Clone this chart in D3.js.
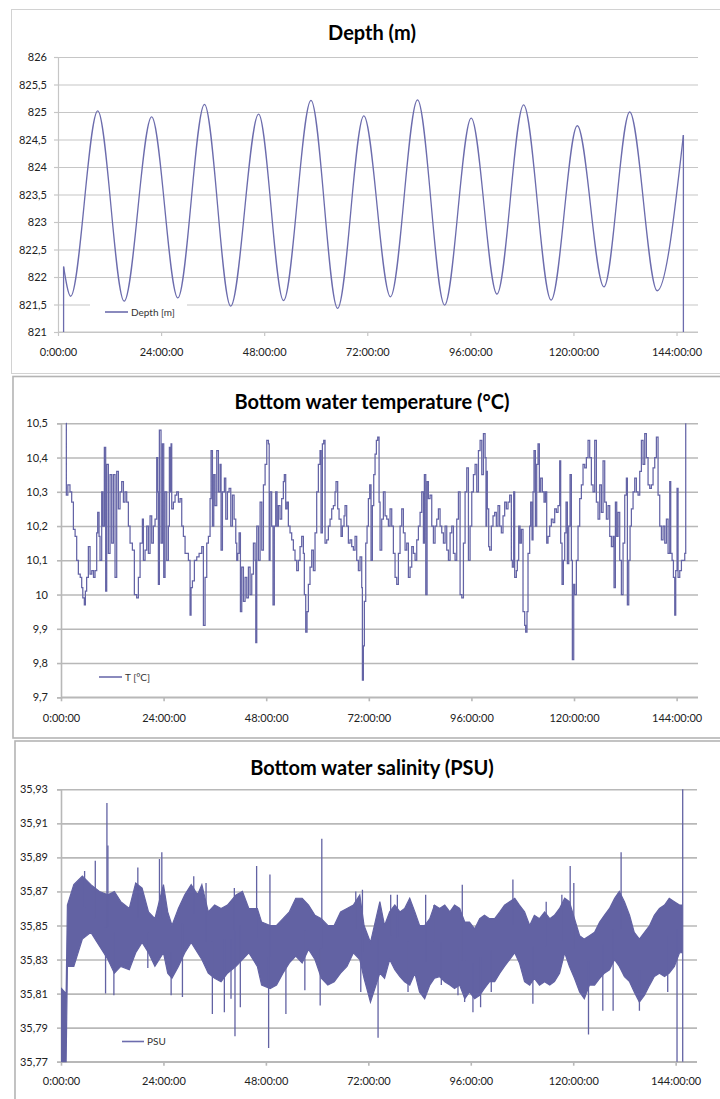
<!DOCTYPE html>
<html><head><meta charset="utf-8">
<script src="https://cdn.jsdelivr.net/npm/d3@7"></script>
<style>body{margin:0;background:#fff} svg{display:block} text{font-family:Lato,"Open Sans",sans-serif}</style>
</head><body><svg id="c" width="720" height="1099"></svg>
<script>
// ---------- DATA ----------
const hourTicks = [0, 24, 48, 72, 96, 120, 144];

// Depth (m): tidal extremes (hour, value)
const depthHours  = [1.3, 2.95, 9.25, 15.4, 21.8, 27.9, 34.1, 40.2, 46.7, 52.5, 58.9, 65.1, 71.2, 77.4, 83.7, 90.0, 96.2, 102.2, 108.4, 114.8, 120.9, 127.1, 133.1, 139.5, 145.6];
const depthValues = [822.19, 821.65, 825.02, 821.56, 824.91, 821.62, 825.14, 821.47, 824.96, 821.57, 825.21, 821.43, 824.93, 821.64, 825.22, 821.49, 824.89, 821.69, 825.13, 821.58, 824.75, 821.82, 825.0, 821.75, 824.58];
const depthFloor = 821;           // record starts / ends below the axis minimum
const depthTicks = [821, 821.5, 822, 822.5, 823, 823.5, 824, 824.5, 825, 825.5, 826];

// Bottom water temperature (°C)
const tempHours = [1.17,1.25,1.6,2.1,2.5,2.9,3.3,3.67,4.06,4.5,4.84,5.1,5.46,5.7,6.0,6.4,6.8,7.2,7.6,7.96,8.35,8.58,8.9,9.13,9.52,9.8,10.14,10.45,10.69,11.08,11.47,11.86,12.25,12.64,13.03,13.42,13.81,14.2,14.6,14.98,15.37,15.76,16.15,16.7,17.16,17.7,18.1,18.5,19.04,19.27,19.66,20.05,20.44,20.83,21.22,21.61,22.0,22.39,22.6,22.78,23.01,23.4,23.72,24.03,24.34,24.73,25.12,25.35,25.6,25.74,25.9,26.29,26.68,27.07,27.46,27.85,28.24,28.63,29.02,29.41,29.8,30.19,30.42,30.74,31.2,31.75,32.3,32.92,33.31,33.7,34.09,34.48,34.87,35.1,35.42,35.73,36.04,36.43,36.82,37.21,37.44,37.76,38.22,38.54,38.93,39.32,39.71,40.1,40.49,40.88,41.11,41.34,41.66,41.97,42.28,42.67,43.06,43.45,43.84,44.23,44.62,45.01,45.4,45.56,45.79,46.18,46.57,46.96,47.35,47.74,48.13,48.52,48.7,48.9,49.28,49.59,49.9,50.22,50.53,50.84,51.23,51.62,52.01,52.24,52.56,52.87,53.18,53.57,53.96,54.35,54.74,55.13,55.52,55.91,56.3,56.69,56.92,57.24,57.55,57.86,58.25,58.64,59.03,59.42,59.81,60.2,60.59,60.82,61.14,61.45,61.76,62.15,62.54,62.93,63.32,63.71,64.1,64.33,64.72,65.04,65.5,65.82,66.21,66.44,66.83,67.22,67.61,68.0,68.39,68.78,69.17,69.56,69.95,70.34,70.5,70.73,70.96,71.28,71.59,71.9,72.21,72.52,72.84,73.15,73.46,73.77,74.08,74.4,74.63,75.02,75.41,75.8,76.19,76.58,76.97,77.36,77.75,78.14,78.53,78.92,79.31,79.7,80.09,80.48,80.87,81.26,81.65,82.04,82.43,82.82,83.21,83.6,83.99,84.38,84.77,85.0,85.32,85.63,85.94,86.33,86.72,87.11,87.5,87.89,88.28,88.67,89.06,89.45,89.84,90.23,90.62,91.01,91.4,91.79,92.18,92.57,92.96,93.35,93.74,94.13,94.52,94.91,95.3,95.69,96.08,96.47,96.86,97.25,97.64,98.03,98.42,98.81,99.2,99.41,99.57,99.72,100.04,100.27,100.66,101.05,101.44,101.83,102.22,102.61,103.0,103.39,103.78,104.17,104.56,104.95,105.34,105.57,105.89,106.12,106.51,106.74,107.06,107.37,107.68,108.07,108.46,108.69,109.0,109.24,109.63,109.86,110.18,110.41,110.64,110.96,111.27,111.58,111.89,112.2,112.59,112.98,113.3,113.61,113.92,114.31,114.7,115.09,115.48,115.87,116.26,116.65,116.88,117.2,117.51,117.82,118.13,118.44,118.76,119.07,119.38,119.61,119.93,120.16,120.55,120.94,121.33,121.72,122.11,122.5,122.89,123.28,123.67,124.06,124.45,124.84,125.23,125.62,126.01,126.4,126.79,127.18,127.57,127.96,128.35,128.74,129.13,129.36,129.68,129.99,130.3,130.69,131.08,131.47,131.86,132.25,132.48,132.8,133.11,133.42,133.81,134.2,134.59,134.98,135.37,135.76,136.15,136.54,136.93,137.32,137.71,138.1,138.49,138.88,139.27,139.66,140.05,140.44,140.83,141.22,141.61,142.0,142.39,142.62,142.94,143.25,143.56,143.79,144.1,144.34,144.73,145.12,145.51,145.9,146.13];
const tempValues = [10.5,10.29,10.32,10.3,10.27,10.19,10.17,10.1,10.06,10.05,10.02,9.99,9.97,10.01,10.05,10.14,10.06,10.07,10.05,10.07,10.18,10.24,10.17,10.1,10.3,10.2,10.43,10.01,10.38,10.12,10.35,10.15,10.35,10.05,10.36,10.25,10.3,10.33,10.27,10.3,10.27,10.2,10.15,10.13,10.0,9.99,10.05,10.15,10.22,10.1,10.13,10.2,10.12,10.23,10.15,10.2,10.22,10.4,10.3,10.03,10.48,10.15,10.44,10.05,10.3,10.1,10.2,10.43,10.3,10.44,10.25,10.27,10.29,10.3,10.27,10.28,10.2,10.17,10.12,10.12,10.1,9.94,10.02,10.04,10.1,10.11,10.12,10.14,9.91,10.05,10.15,10.17,10.28,10.42,10.2,10.35,10.26,10.42,10.3,10.38,10.13,10.3,10.34,10.22,10.3,10.31,10.2,10.29,10.22,10.15,10.1,10.12,10.18,9.95,10.08,9.98,10.05,9.99,10.08,10.0,10.06,10.15,10.1,9.86,10.2,10.1,10.27,10.13,10.32,10.38,10.45,10.44,10.1,10.3,10.2,9.97,10.2,10.3,10.2,10.26,10.22,10.28,10.33,10.35,10.25,10.27,10.2,10.18,10.16,10.13,10.1,10.07,10.1,10.14,10.17,10.12,10.0,9.89,9.95,10.03,10.08,10.13,10.07,10.18,10.3,10.38,10.42,10.18,10.44,10.45,10.15,10.16,10.2,10.22,10.25,10.26,10.3,10.33,10.25,10.22,10.17,10.2,10.23,10.26,10.2,10.15,10.16,10.14,10.13,10.17,10.1,10.07,10.11,10.02,9.75,9.85,9.98,10.15,10.2,10.28,10.32,10.1,10.26,10.35,10.41,10.45,10.46,10.27,10.13,10.22,10.3,10.23,10.22,10.2,10.25,10.2,10.12,10.05,10.03,10.12,10.2,10.25,10.18,10.13,10.15,10.05,10.08,10.14,10.12,10.1,10.16,10.2,10.24,10.3,10.15,10.35,10.0,10.33,10.28,10.29,10.2,10.15,10.2,10.22,10.25,10.2,10.18,10.15,10.2,10.13,10.1,10.18,10.2,10.12,10.1,10.22,10.3,10.0,9.99,10.15,10.3,10.37,10.1,10.2,10.3,10.35,10.38,10.3,10.42,10.45,10.35,10.47,10.4,10.2,10.36,10.25,10.14,10.13,10.2,10.23,10.24,10.2,10.26,10.2,10.18,10.23,10.27,10.25,10.27,10.29,10.1,10.08,10.3,10.05,10.07,10.1,10.2,10.15,10.19,9.95,9.91,9.89,9.95,10.12,10.2,10.27,10.16,10.3,10.42,10.2,10.38,10.44,10.3,10.34,10.3,10.27,10.3,10.15,10.17,10.2,10.22,10.21,10.25,10.24,10.26,10.39,10.15,10.03,10.1,10.18,10.27,10.09,10.2,10.35,10.1,9.81,10.03,10.0,10.1,10.2,10.28,10.32,10.38,10.37,10.4,10.45,10.4,10.32,10.3,10.45,10.27,10.22,10.32,10.24,10.39,10.27,10.22,10.26,10.17,10.14,10.17,10.02,10.27,10.17,10.24,10.1,10.0,10.15,10.29,10.34,9.97,10.1,10.2,10.25,10.3,10.34,10.3,10.29,10.36,10.45,10.38,10.47,10.4,10.32,10.31,10.32,10.37,10.4,10.46,10.29,10.2,10.16,10.2,10.15,10.22,10.12,10.33,10.12,10.1,10.05,9.94,10.07,10.31,10.05,10.07,10.1,10.1,10.12,10.5];
const tempTicks = [9.7, 9.8, 9.9, 10.0, 10.1, 10.2, 10.3, 10.4, 10.5];

// Bottom water salinity (PSU): envelope of the dense signal + isolated spikes
const salHours = [0.1,1.2,1.5,3,5,7,9,11,12.5,14,16,17.5,19,20.5,22,24,25,26,27.5,29,30.5,32,33,34.5,36,37.5,39,41,42.5,44,46,47,49,50.5,52,53.5,55,56.5,58,59.5,61,62.5,64,65.5,67,68.5,70,71,72.5,74.7,75.8,77,78.2,79.4,80.5,81.7,82.9,84,85.2,86.4,87.5,88.7,89.9,91.1,92.2,93.4,94.6,95.7,96.9,98.1,99.2,100.4,101.6,102.8,103.9,105.1,106.3,107.4,108.6,109.8,110.9,112.1,113.3,114.5,115.6,116.8,118,119.1,120.3,121.5,122.6,123.8,125,126.2,127.3,128.5,129.7,130.8,132,133.2,134.3,135.5,136.7,137.9,139,140.2,141.4,142.5,143.7,144.9,145.5];
const salLow  = [35.77,35.77,35.826,35.826,35.842,35.846,35.838,35.83,35.822,35.826,35.824,35.834,35.84,35.834,35.826,35.834,35.822,35.819,35.826,35.834,35.84,35.834,35.83,35.822,35.819,35.817,35.822,35.826,35.83,35.834,35.826,35.815,35.813,35.815,35.822,35.828,35.832,35.828,35.836,35.83,35.819,35.815,35.817,35.822,35.826,35.834,35.83,35.819,35.805,35.822,35.819,35.83,35.824,35.82,35.817,35.815,35.822,35.811,35.807,35.815,35.819,35.82,35.817,35.815,35.813,35.815,35.807,35.811,35.807,35.809,35.813,35.817,35.817,35.822,35.826,35.83,35.834,35.828,35.817,35.815,35.819,35.815,35.817,35.815,35.817,35.822,35.834,35.826,35.819,35.811,35.807,35.815,35.815,35.819,35.822,35.824,35.83,35.826,35.82,35.817,35.811,35.805,35.809,35.815,35.82,35.822,35.82,35.822,35.826,35.834,35.834];
const salHigh = [35.813,35.81,35.862,35.874,35.879,35.874,35.87,35.868,35.87,35.864,35.86,35.875,35.872,35.858,35.854,35.874,35.858,35.85,35.86,35.868,35.874,35.868,35.874,35.858,35.862,35.86,35.862,35.868,35.87,35.86,35.86,35.852,35.85,35.85,35.854,35.858,35.866,35.866,35.862,35.856,35.854,35.85,35.85,35.858,35.86,35.862,35.868,35.85,35.84,35.864,35.85,35.858,35.862,35.858,35.86,35.866,35.858,35.85,35.85,35.854,35.862,35.86,35.862,35.858,35.862,35.86,35.852,35.852,35.848,35.854,35.856,35.854,35.854,35.858,35.862,35.864,35.866,35.862,35.858,35.85,35.856,35.854,35.858,35.854,35.856,35.86,35.866,35.864,35.854,35.844,35.842,35.844,35.846,35.852,35.856,35.86,35.866,35.87,35.864,35.856,35.846,35.842,35.846,35.85,35.856,35.86,35.862,35.866,35.864,35.862,35.862];
const spikeHours  = [5.53,8.03,10.44,10.76,10.99,12.39,18.0,20.34,23.07,23.62,25.8,28.45,31.1,33.98,35.46,38.27,39.83,40.61,40.76,42.01,45.83,48.64,48.95,52.69,57.13,60.72,61.1,69.06,70.23,70.62,74.28,77.24,78.8,81.3,85.43,87.38,89.1,93.0,94.01,94.56,96.51,98.3,100.8,105.87,110.55,113.67,117.34,119.29,120.14,123.58,126.93,129.35,131.22,135.51,142.14,144.32,145.65,145.65];
const spikeValues = [35.882,35.888,35.81,35.922,35.897,35.809,35.884,35.825,35.889,35.893,35.809,35.808,35.879,35.875,35.798,35.799,35.807,35.872,35.785,35.802,35.885,35.778,35.88,35.798,35.812,35.803,35.901,35.87,35.811,35.871,35.784,35.868,35.868,35.811,35.868,35.862,35.815,35.809,35.874,35.805,35.799,35.802,35.811,35.877,35.804,35.864,35.868,35.885,35.875,35.786,35.8,35.8,35.893,35.8,35.811,35.77,35.93,35.77];
const salTickLabels = ["35,77","35,79","35,81","35,83","35,85","35,87","35,89","35,91","35,93"];

// ---------- DRAWING ----------
const svg = d3.select('#c');
const LINE = '#6c6cad';
const comma = d => String(d).replace('.', ',');

function panel(cfg) {
  svg.append('rect').attr('x', cfg.frame[0]).attr('y', cfg.frame[1])
    .attr('width', cfg.frame[2]).attr('height', cfg.frame[3])
    .attr('fill', '#fff').attr('stroke', cfg.frameColor).attr('stroke-width', cfg.frameW);

  const x = d3.scaleLinear().domain([0, 149]).range([cfg.x0, cfg.x1]);
  const y = d3.scaleLinear().domain(cfg.yDomain).range([cfg.yBottom, cfg.yTop]);

  // gridlines
  svg.append('g').attr('transform', `translate(${cfg.x0},0)`)
    .call(d3.axisLeft(y).tickValues(cfg.yTicks).tickSize(-(cfg.x1 - cfg.x0)).tickFormat(''))
    .call(s => { s.select('.domain').remove();
      s.selectAll('line').attr('stroke', cfg.gridColor).attr('stroke-width', cfg.gridW); });

  // y axis
  svg.append('g').attr('transform', `translate(${cfg.x0},0)`)
    .call(d3.axisLeft(y).tickValues(cfg.yTicks).tickSize(4).tickPadding(cfg.yPad).tickFormat(cfg.yFormat))
    .call(s => {
      s.select('.domain').attr('stroke', cfg.gridColor).attr('stroke-width', cfg.gridW);
      s.selectAll('line').attr('stroke', cfg.gridColor).attr('stroke-width', cfg.gridW);
      s.selectAll('text').attr('fill', '#222').style('font-size', '11px').style('font-family', 'Lato, sans-serif');
    });

  // x axis
  svg.append('g').attr('transform', `translate(0,${cfg.yBottom})`)
    .call(d3.axisBottom(x).tickValues(hourTicks).tickSize(4).tickPadding(cfg.xPad).tickFormat(h => h + ':00:00'))
    .call(s => {
      s.select('.domain').attr('stroke', cfg.gridColor).attr('stroke-width', cfg.gridW)
        .attr('d', `M${cfg.x0},0H${cfg.x1}`);
      s.selectAll('line').attr('stroke', cfg.gridColor).attr('stroke-width', cfg.gridW);
      s.selectAll('text').attr('fill', '#222').style('font-size', '11px').style('font-family', 'Lato, sans-serif');
    });

  // title
  svg.append('text').attr('x', 372).attr('y', cfg.titleY).attr('text-anchor', 'middle')
    .style('font-family', 'Lato, sans-serif').style('font-weight', 'bold').style('font-size', '20px')
    .attr('fill', '#000').text(cfg.title);

  const clipId = 'clip' + cfg.id;
  svg.append('clipPath').attr('id', clipId).append('rect')
    .attr('x', cfg.x0).attr('y', cfg.yTop - 1).attr('width', cfg.x1 - cfg.x0).attr('height', cfg.yBottom - cfg.yTop + 2);
  const plot = svg.append('g').attr('clip-path', `url(#${clipId})`);
  return { x, y, plot };
}

function legend(lx, ly, w, label, cover) {
  const g = svg.append('g');
  if (cover) g.append('rect').attr('x', cover[0]).attr('y', cover[1]).attr('width', cover[2]).attr('height', cover[3]).attr('fill', '#fff');
  g.append('line').attr('x1', lx).attr('x2', lx + w).attr('y1', ly).attr('y2', ly).attr('stroke', LINE).attr('stroke-width', 1.6);
  g.append('text').attr('x', lx + w + 3).attr('y', ly).attr('dy', '0.35em')
    .style('font-family', 'Lato, sans-serif').style('font-size', '10px').attr('fill', '#333').text(label);
}

// ---- Panel 1: Depth ----
{
  const p = panel({ id: 1, frame: [11.5, 9.5, 730, 364], frameColor: '#d2d2d2', frameW: 1,
    x0: 58, x1: 698, yTop: 57, yBottom: 332, yDomain: [821, 826], yTicks: depthTicks,
    yFormat: comma, yPad: 7, xPad: 12, gridColor: '#c6c6c6', gridW: 1.2,
    title: 'Depth (m)', titleY: 40 });
  const pts = depthHours.map((h, i) => [h, depthValues[i]]);
  p.plot.append('path').datum(pts)
    .attr('d', d3.line().x(d => p.x(d[0])).y(d => p.y(d[1])).curve(d3.curveMonotoneX))
    .attr('fill', 'none').attr('stroke', LINE).attr('stroke-width', 1.3);
  const lin = d3.line().x(d => p.x(d[0])).y(d => p.y(d[1]));
  const n = depthHours.length - 1;
  [[[depthHours[0], depthFloor], [depthHours[0], depthValues[0]]],
   [[depthHours[n], depthValues[n]], [depthHours[n], depthFloor]]].forEach(seg =>
    p.plot.append('path').attr('d', lin(seg)).attr('fill', 'none').attr('stroke', LINE).attr('stroke-width', 1.3));
  legend(105, 312, 23, 'Depth [m]', [90, 302, 97, 20]);
}

// ---- Panel 2: Temperature ----
{
  const p = panel({ id: 2, frame: [13, 376.5, 730, 361.5], frameColor: '#b4b4b4', frameW: 1.6,
    x0: 61, x1: 698, yTop: 423.3, yBottom: 697.3, yDomain: [9.7, 10.5], yTicks: tempTicks,
    yFormat: comma, yPad: 9, xPad: 12.5, gridColor: '#b8b8b8', gridW: 1.6,
    title: 'Bottom water temperature (°C)', titleY: 409 });
  const pts = tempHours.map((h, i) => [h, tempValues[i]]);
  p.plot.append('path').datum(pts)
    .attr('d', d3.line().x(d => p.x(d[0])).y(d => p.y(d[1])).curve(d3.curveStepAfter))
    .attr('fill', 'none').attr('stroke', '#6464a6').attr('stroke-width', 1.25);
  legend(99, 677, 23, 'T [°C]', null);
}

// ---- Panel 3: Salinity ----
{
  const salTicks = salTickLabels.map(s => +s.replace(',', '.'));
  const p = panel({ id: 3, frame: [15, 741, 730, 380], frameColor: '#b4b4b4', frameW: 1.6,
    x0: 61, x1: 697, yTop: 789.3, yBottom: 1061.7, yDomain: [35.77, 35.93], yTicks: salTicks,
    yFormat: (d, i) => salTickLabels[i], yPad: 9, xPad: 12, gridColor: '#b8b8b8', gridW: 1.6,
    title: 'Bottom water salinity (PSU)', titleY: 775 });
  const band = salHours.map((h, i) => ({ h, lo: salLow[i], hi: salHigh[i] }));
  p.plot.append('path').datum(band)
    .attr('d', d3.area().x(d => p.x(d.h)).y0(d => p.y(d.lo)).y1(d => p.y(d.hi)))
    .attr('fill', '#6262a3').attr('stroke', '#6262a3').attr('stroke-width', 1.2);
  const bis = d3.bisector(d => d.h).center;
  spikeHours.forEach((h, i) => {
    const b = band[bis(band, h)];
    const mid = (b.lo + b.hi) / 2;
    p.plot.append('path').attr('d', d3.line().x(d => p.x(d[0])).y(d => p.y(d[1]))([[h, mid], [h, spikeValues[i]]]))
      .attr('stroke', '#6262a3').attr('stroke-width', 1.3).attr('fill', 'none');
  });
  legend(122, 1041.5, 22, 'PSU', null);
}
</script></body></html>
